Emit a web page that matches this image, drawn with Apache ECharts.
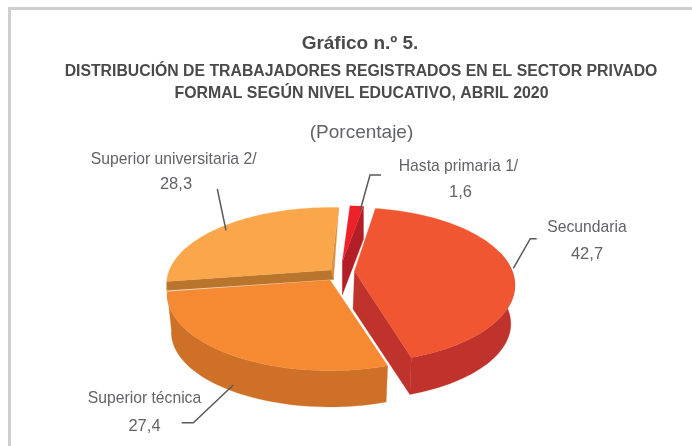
<!DOCTYPE html>
<html><head><meta charset="utf-8">
<style>html,body{margin:0;padding:0;background:#fff}#c{width:692px;height:446px}</style>
<script src="https://cdn.jsdelivr.net/npm/echarts@6/dist/echarts.min.js"></script>
</head><body><div id="c"></div>
<script>
// DATA (clockwise from the first slice)
const categories = ['Secundaria', 'Superior técnica', 'Superior universitaria 2/', 'Hasta primaria 1/'];
const shares = [42.7, 27.4, 28.3, 1.6];
const paintOrder = [2, 3, 0, 1];

// PIE STYLE
const startAngle = 9, rx = 160, ry = 74, persp = 0.184, baseScale = 0.975;
const centers = [[354.5, 271], [330, 280], [331, 270], [342.3, 262]];
const scalesX = [0.985, 1.0, 1.01, 1];
const scalesY = [1.01, 1, 1, 0.9];
const depths = [38, 37.5, 37.5, 33];
const topColors = ['#f15633', '#f58a32', '#faa64b', '#ed2129'];
const wallColors = ['#c0322c', '#cf7028', '#b8752b', '#b21e25'];
const sliverColor = '#de8e3c';
const font = '"Liberation Sans", Arial, sans-serif';
const textColor = '#626366', titleColor = '#4a4a4a';

// Perspective projection of a point on the pie rim (angle: clockwise from top)
function rim(idx, deg, s, dy) {
  const c = centers[idx];
  const t = deg * Math.PI / 180, u = Math.sin(t), v = -Math.cos(t), w = 1 - persp * v;
  return [c[0] + s * scalesX[idx] * rx * u / w, c[1] + (dy || 0) + s * scalesY[idx] * ry * v / w];
}
function arc(idx, a0, a1, s, dy) {
  const pts = [], n = Math.max(2, Math.ceil(Math.abs(a1 - a0) / 2));
  for (let i = 0; i <= n; i++) pts.push(rim(idx, a0 + (a1 - a0) * i / n, s, dy));
  return pts;
}
const cumulative = [];
shares.reduce((sum, v, i) => (cumulative[i] = sum, sum + v), 0);

function renderSlice(params, api) {
  const idx = api.value(2), share = api.value(0);
  const a0 = startAngle + api.value(1) * 3.6, a1 = a0 + share * 3.6;
  const c = centers[idx], d = depths[idx], kids = [];
  const poly = (points, fill) => kids.push({ type: 'polygon', shape: { points }, style: { fill, stroke: fill, lineWidth: 0.3 } });
  const wA = Math.max(a0, 75), wB = Math.min(a1, 285);
  if (wB > wA && idx !== 2) {            // outer wall
    poly(arc(idx, wA, wB, 1, 0).concat(arc(idx, wB, wA, baseScale, d + 1)), wallColors[idx]);
  }
  if (idx === 0 || idx === 3) {          // cut face on the clockwise end of the slice
    poly([rim(idx, a1, 1, 0), c, [c[0] - (idx === 0 ? 1.5 : 0), c[1] + d], rim(idx, a1, idx === 0 ? baseScale : 1, idx === 0 ? d + 1 : d)], wallColors[idx]);
  }
  if (idx === 2) {                       // universitaria: the two visible slivers of its cut faces
    poly([rim(idx, a1, 1, 0), c, [c[0] + 2.5, c[1] + 9.5]], sliverColor);
    poly([rim(idx, a0, 1, 0), c, [c[0] + 2.5, c[1] + 9.5], rim(idx, a0, 1, 9)], wallColors[idx]);
  }
  poly([c].concat(arc(idx, a0, a1, 1, 0)), topColors[idx]);
  return { type: 'group', children: kids };
}

// TEXT
const titleLines = ['Gráfico n.º 5.', 'DISTRIBUCIÓN DE TRABAJADORES REGISTRADOS EN EL SECTOR PRIVADO', 'FORMAL SEGÚN NIVEL EDUCATIVO, ABRIL 2020', '(Porcentaje)'];
const fmt = v => String(v).replace('.', ',');
const labelPos = [
  { x: 587, y1: 228, x2: 587, y2: 254.5 }, { x: 144.5, y1: 399, x2: 144.5, y2: 426.5 },
  { x: 173.7, y1: 159.5, x2: 176, y2: 184.5 }, { x: 458.5, y1: 166.5, x2: 460.5, y2: 192.5 }
];
const leaders = [
  [[536.7, 238.7], [530.3, 238.7], [513.3, 268.3]],
  [[181.7, 422.7], [193.3, 422.7], [233.3, 385]],
  [[217.3, 189], [226, 230.3]],
  [[381, 175], [370, 175], [360.3, 210]]
];
const txt = (x, y, text, size, weight, fill) => ({
  type: 'text', x, y, z: 10,
  style: { text, font: `${weight} ${size}px ${font}`, fill, align: 'center', verticalAlign: 'middle' }
});
const graphics = [
  { type: 'polyline', z: 1, shape: { points: [[9.5, 446], [9.5, 8.5], [692, 8.5]] }, style: { stroke: '#cfcfcf', lineWidth: 3, fill: null } },
  txt(360, 44, titleLines[0], 19, 'bold', titleColor),
  txt(361, 72, titleLines[1], 15.8, 'bold', titleColor),
  txt(361.5, 94, titleLines[2], 15.9, 'bold', titleColor),
  txt(361.5, 133, titleLines[3], 19, 'normal', textColor)
];
categories.forEach((name, i) => {
  graphics.push(txt(labelPos[i].x, labelPos[i].y1, name, 15.7, 'normal', textColor));
  graphics.push(txt(labelPos[i].x2, labelPos[i].y2, fmt(shares[i]), 16.5, 'normal', textColor));
  graphics.push({ type: 'polyline', z: 20, shape: { points: leaders[i] }, style: { stroke: '#58595b', lineWidth: 1.5, fill: null } });
});

const chart = echarts.init(document.getElementById('c'), null, { renderer: 'canvas' });
chart.setOption({
  animation: false,
  backgroundColor: '#fff',
  graphic: { elements: graphics },
  series: [{
    type: 'custom', coordinateSystem: 'none', renderItem: renderSlice,
    data: paintOrder.map(i => ({ name: categories[i], value: [shares[i], cumulative[i], i] }))
  }]
});
</script></body></html>
